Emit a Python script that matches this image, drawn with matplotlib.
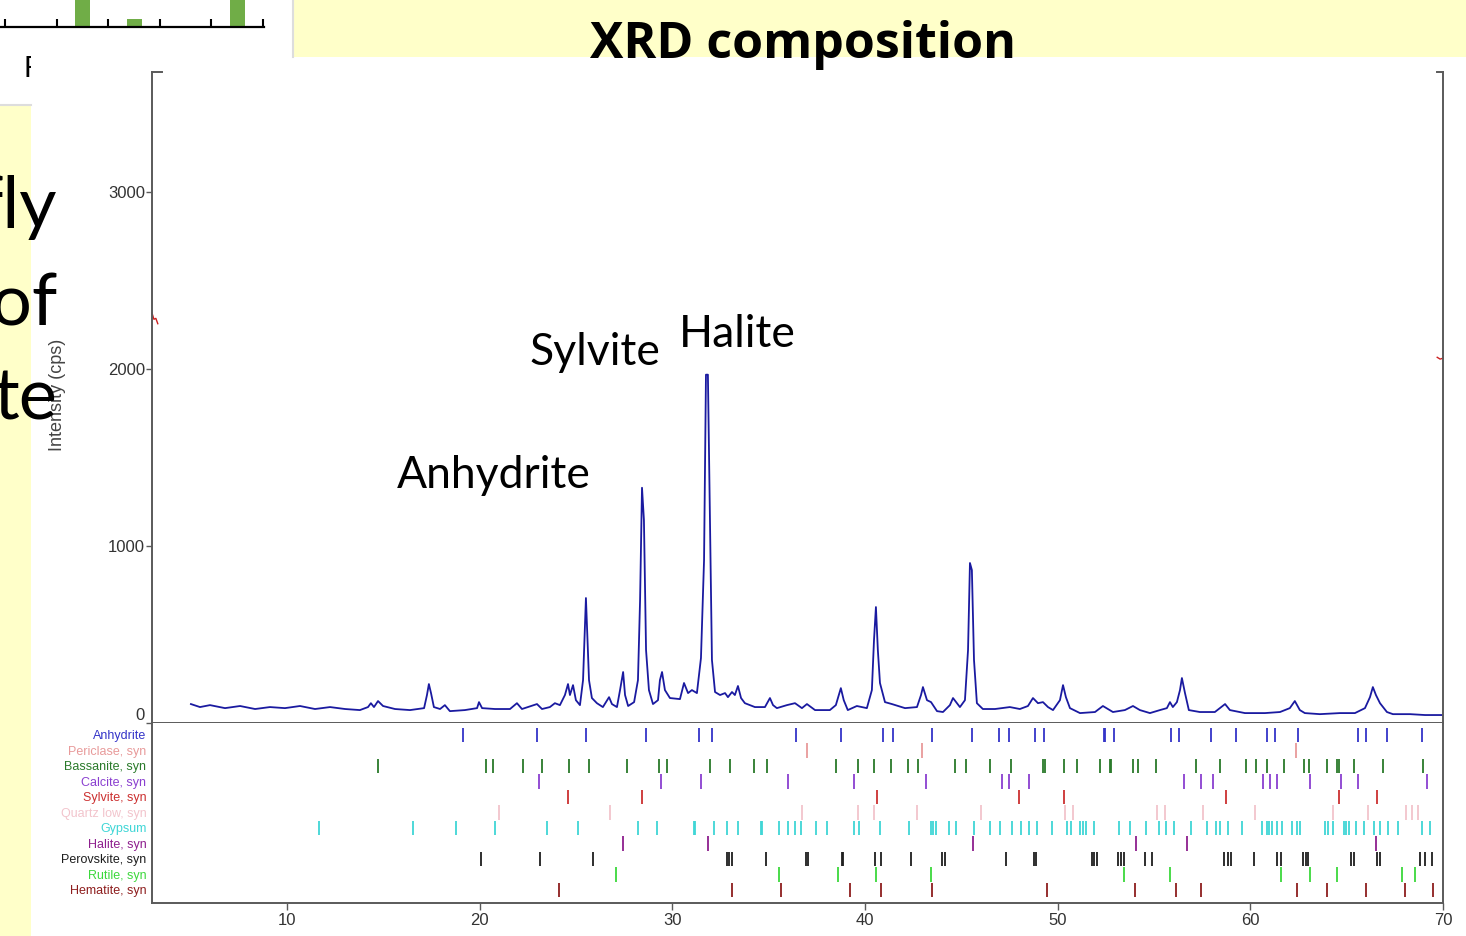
import matplotlib
matplotlib.use("Agg")
import matplotlib.pyplot as plt
from matplotlib.patches import Rectangle
from matplotlib.lines import Line2D
from matplotlib.transforms import Bbox

plt.rcParams["font.family"] = ["Liberation Sans", "DejaVu Sans"]

# ---------------- data ----------------
two_theta = [5.02, 5.49, 6.01, 6.79, 7.57, 8.35, 9.12, 9.90, 10.68, 11.46, 12.24, 13.02, 13.79,
             14.21, 14.36, 14.52, 14.73, 14.99, 15.61, 16.39, 17.12, 17.27, 17.37, 17.48, 17.63,
             17.95, 18.20, 18.46, 19.24, 19.87, 19.97, 20.13, 20.80, 21.58, 21.94, 22.20, 22.98,
             23.24, 23.65, 23.91, 24.17, 24.43, 24.59, 24.69, 24.85, 25.00, 25.21, 25.37, 25.52,
             25.68, 25.83, 26.09, 26.40, 26.72, 26.87, 27.13, 27.29, 27.45, 27.55, 27.71, 28.02,
             28.22, 28.33, 28.43, 28.53, 28.64, 28.79, 29.00, 29.26, 29.36, 29.47, 29.62, 29.88,
             30.40, 30.61, 30.82, 31.02, 31.28, 31.49, 31.65, 31.75, 31.85, 31.96, 32.06, 32.22,
             32.48, 32.74, 32.89, 33.10, 33.25, 33.41, 33.57, 33.77, 34.29, 34.81, 35.07, 35.23,
             35.43, 35.95, 36.37, 36.73, 36.99, 37.41, 38.18, 38.49, 38.75, 38.90, 39.11, 39.58,
             40.10, 40.36, 40.47, 40.57, 40.67, 40.78, 41.04, 41.40, 42.08, 42.70, 42.91, 43.01,
             43.22, 43.43, 43.74, 44.05, 44.41, 44.57, 44.93, 45.19, 45.35, 45.45, 45.55, 45.66,
             45.81, 46.12, 46.75, 47.52, 48.04, 48.46, 48.72, 48.98, 49.24, 49.50, 49.76, 50.12,
             50.28, 50.43, 50.64, 51.16, 51.94, 52.35, 52.87, 53.49, 53.91, 54.27, 54.79, 55.31,
             55.67, 55.83, 55.98, 56.19, 56.35, 56.45, 56.61, 56.81, 57.38, 58.16, 58.69, 58.94,
             59.72, 60.76, 61.54, 62.05, 62.31, 62.57, 62.83, 63.61, 64.65, 65.43, 65.95, 66.21,
             66.36, 66.52, 66.73, 67.09, 67.40, 68.29, 69.07, 70.00]
intensity = [107, 90, 101, 84, 96, 79, 90, 84, 96, 79, 90, 79, 73,
             90, 112, 90, 124, 96, 79, 73, 84, 158, 220, 169, 90,
             79, 101, 67, 73, 84, 118, 84, 79, 79, 112, 79, 107,
             79, 90, 112, 101, 158, 220, 158, 214, 129, 101, 242, 706,
             242, 141, 112, 90, 146, 107, 90, 186, 288, 158, 96, 118,
             242, 695, 1329, 1147, 412, 186, 107, 129, 242, 288, 186, 141,
             135, 226, 169, 186, 169, 367, 920, 1968, 1968, 1146, 356, 175,
             158, 169, 146, 175, 158, 209, 141, 112, 90, 90, 141, 101,
             84, 101, 112, 84, 107, 73, 73, 101, 197, 129, 73, 96,
             84, 186, 468, 655, 412, 226, 118, 107, 84, 90, 158, 203,
             129, 118, 67, 62, 101, 141, 90, 129, 412, 904, 864, 356,
             112, 79, 79, 90, 79, 96, 141, 112, 118, 90, 73, 129,
             214, 146, 84, 56, 62, 96, 62, 73, 96, 73, 56, 73,
             84, 118, 90, 118, 186, 254, 169, 73, 62, 62, 107, 73,
             56, 56, 62, 84, 124, 73, 56, 50, 56, 56, 84, 146,
             203, 158, 112, 62, 50, 50, 45, 45]

# fragments of a second (red) scan visible at the plot edges
red_left_x = [3.0, 3.1, 3.2, 3.3]
red_left_y = [2316, 2281, 2286, 2256]
red_right_x = [69.7, 69.85, 70.0]
red_right_y = [2066, 2056, 2061]

phase_names = ["Anhydrite", "Periclase, syn", "Bassanite, syn", "Calcite, syn", "Sylvite, syn",
               "Quartz low, syn", "Gypsum", "Halite, syn", "Perovskite, syn", "Rutile, syn",
               "Hematite, syn"]

anhydrite = [19.12, 22.96, 25.52, 28.62, 31.40, 32.05, 36.42, 38.74, 40.92, 41.44, 43.48, 45.57,
             46.95, 47.49, 48.82, 49.30, 52.40, 52.47, 52.94, 55.86, 56.29, 57.96, 59.25, 60.88,
             61.28, 62.45, 65.60, 65.98, 67.10, 68.91]
periclase = [36.97, 42.96, 62.35]
bassanite = [14.73, 20.32, 20.71, 22.27, 23.24, 24.64, 25.69, 27.67, 29.33, 29.71, 31.96, 33.01,
             34.24, 34.93, 38.48, 39.64, 40.48, 41.33, 42.25, 42.74, 44.67, 45.23, 46.49, 47.59,
             49.25, 49.34, 50.33, 51.00, 52.18, 52.73, 52.78, 53.89, 54.18, 55.12, 57.18, 58.42,
             59.77, 60.29, 60.88, 61.74, 62.80, 63.04, 63.96, 64.48, 64.61, 65.39, 66.88, 68.94]
calcite = [23.07, 29.43, 31.47, 35.99, 39.41, 43.15, 47.09, 47.49, 48.51, 56.57, 57.42, 58.06,
           60.67, 61.02, 61.36, 63.09, 64.69, 65.60, 69.18]
sylvite = [24.57, 28.41, 40.61, 48.01, 50.33, 58.75, 64.61, 66.55]
quartz = [20.99, 26.77, 36.75, 39.65, 40.48, 42.68, 46.00, 50.38, 50.81, 55.14, 55.57, 57.53,
          60.25, 64.30, 66.12, 68.07, 68.37, 68.68]
gypsum = [11.67, 16.54, 18.78, 20.80, 23.51, 25.09, 28.20, 29.22, 31.14, 31.19, 32.16, 32.85,
          33.43, 34.60, 34.65, 35.54, 35.99, 36.38, 36.68, 37.46, 38.01, 39.43, 39.70, 40.78,
          42.30, 43.43, 43.55, 43.68, 44.36, 44.72, 45.67, 46.49, 47.01, 47.64, 48.08, 48.51,
          48.91, 49.69, 50.50, 50.69, 51.16, 51.33, 51.47, 51.90, 53.20, 53.75, 54.57, 55.26,
          55.62, 56.03, 56.90, 57.76, 58.20, 58.42, 58.82, 59.58, 60.59, 60.85, 60.97, 61.11,
          61.40, 61.62, 62.17, 62.43, 62.57, 63.87, 64.04, 64.30, 64.87, 64.99, 65.12, 65.46,
          65.91, 66.41, 66.73, 67.16, 67.68, 68.92, 69.32]
halite = [27.46, 31.84, 45.62, 54.06, 56.69, 66.52]
perovskite = [20.07, 23.13, 25.90, 32.82, 32.96, 33.10, 34.86, 36.92, 37.06, 38.79, 38.87, 40.53,
              40.82, 42.39, 44.01, 44.15, 47.32, 48.77, 48.87, 51.76, 51.90, 52.04, 53.11, 53.29,
              53.44, 54.53, 54.91, 58.65, 58.82, 58.99, 60.19, 61.36, 61.57, 62.71, 62.87, 63.00,
              65.21, 65.39, 66.55, 66.73, 68.80, 69.06, 69.41]
rutile = [27.08, 35.54, 38.62, 40.57, 43.43, 53.44, 55.83, 61.59, 63.09, 64.48, 67.88, 68.54]
hematite = [24.14, 33.11, 35.62, 39.22, 40.82, 43.48, 49.43, 54.01, 56.14, 57.42, 62.40, 64.00,
            65.98, 68.02, 69.49]

phase_positions = [anhydrite, periclase, bassanite, calcite, sylvite, quartz, gypsum, halite,
                   perovskite, rutile, hematite]
phase_colors = ["#3434C8", "#E89A9A", "#2A7A2A", "#8A3FD0", "#CC3030", "#F2C4CC", "#3FD6D6",
                "#8E1F8E", "#1E1E1E", "#3CD83C", "#8E1E1E"]

x_ticks = [10, 20, 30, 40, 50, 60, 70]
y_ticks = [0, 1000, 2000, 3000]

# fragment of the bar chart at the top-left of the slide
bar_values = [0, 14, 3, 0, 12]

W, H = 1466, 936
YELLOW = "#FFFFC9"
SPINE = "#5a5a5a"


def fx(px):
    return px / W


def fy(py):
    return 1 - py / H


fig = plt.figure(figsize=(W / 100, H / 100), dpi=100)
fig.patch.set_facecolor("white")

###### slide background ######
fig.patches.append(Rectangle((fx(294), fy(57)), fx(W - 294), 57 / H, transform=fig.transFigure,
                             facecolor=YELLOW, edgecolor="none", zorder=0.1))
fig.patches.append(Rectangle((0, 0), fx(31), fy(105), transform=fig.transFigure,
                             facecolor=YELLOW, edgecolor="none", zorder=0.1))
fig.lines.append(Line2D([fx(293), fx(293)], [fy(0), fy(57)], transform=fig.transFigure,
                        color="#dddddd", lw=1.5, zorder=0.2))
fig.lines.append(Line2D([0, fx(31)], [fy(105), fy(105)], transform=fig.transFigure,
                        color="#dddddd", lw=1.5, zorder=0.2))
# letter of the hidden bar chart's axis label, cut by the chart picture
f_txt = fig.text(fx(24), fy(77), "F", fontsize=20, family="Lato", ha="left", va="baseline")
f_txt.set_clip_box(Bbox.from_extents(0, 0, 31, H))
f_txt.set_clip_on(True)

###### bar chart fragment ######
axb = fig.add_axes([0, fy(27), fx(264), 27 / H])
axb.patch.set_alpha(0)
axb.bar(range(len(bar_values)), bar_values, width=0.29, color="#70AD47")
axb.set_xlim(-0.6, 4.52)
axb.set_ylim(0, 10)
for s in ["top", "left", "right"]:
    axb.spines[s].set_visible(False)
axb.spines["bottom"].set_linewidth(1.6)
axb.set_xticks([-0.5, 0.5, 1.5, 2.5, 3.5, 4.5])
axb.set_xticklabels([])
axb.set_yticks([])
axb.tick_params(axis="x", direction="in", length=6, width=1.5, color="black")

###### XRD pattern ######
ax = fig.add_axes([fx(152), fy(723), fx(1443 - 152), (723 - 72) / H])
axs = fig.add_axes([fx(152), fy(903), fx(1443 - 152), (903 - 723) / H], sharex=ax)

ax.plot(two_theta, intensity, color="#1A1AA0", lw=1.3)
ax.plot(red_left_x, red_left_y, color="#CC2020", lw=1.0, clip_on=False)
ax.plot(red_right_x, red_right_y, color="#CC2020", lw=1.0, clip_on=False)
ax.set_xlim(3, 70)
ax.set_ylim(0, 3678)
ax.set_yticks(y_ticks)
ax.tick_params(axis="y", direction="out", length=4, width=1, color=SPINE, labelsize=12,
               labelcolor="#333333", pad=1)
ax.get_yticklabels()[0].set_va("bottom")
ax.tick_params(axis="x", bottom=False, labelbottom=False)
ax.spines["top"].set_visible(False)
for s in ["left", "right", "bottom"]:
    ax.spines[s].set_color(SPINE)
    ax.spines[s].set_linewidth(1.4)
# little corner marks of the frame
ax.plot([0, 0.008], [1, 1], transform=ax.transAxes, color=SPINE, lw=1.4, clip_on=False)
ax.plot([0.995, 1], [1, 1], transform=ax.transAxes, color=SPINE, lw=1.4, clip_on=False)
ax.set_ylabel("Intensity (cps)", fontsize=13, color="#444444")
ax.yaxis.set_label_coords(-0.0666, 0.504)

ax.text(33.36, 2124, "Halite", ha="center", va="baseline", fontsize=32, family="Lato")
ax.text(25.99, 2023, "Sylvite", ha="center", va="baseline", fontsize=32, family="Lato")
ax.text(20.75, 1328, "Anhydrite", ha="center", va="baseline", fontsize=32, family="Lato")

###### phase sticks ######
for i, (pos, col) in enumerate(zip(phase_positions, phase_colors)):
    axs.vlines(pos, i - 0.47, i + 0.47, color=col, lw=1.3)
axs.set_ylim(10.84, -0.77)
axs.set_yticks(range(len(phase_names)))
axs.set_yticklabels(phase_names, fontsize=9)
for lbl, col in zip(axs.get_yticklabels(), phase_colors):
    lbl.set_color(col)
axs.tick_params(axis="y", length=0, pad=4)
axs.set_xticks(x_ticks)
axs.tick_params(axis="x", direction="out", length=5, width=1, color=SPINE, labelsize=12,
                labelcolor="#333333", pad=2)
axs.spines["top"].set_visible(False)
for s in ["left", "right", "bottom"]:
    axs.spines[s].set_color(SPINE)
    axs.spines[s].set_linewidth(1.4)

###### slide texts ######
fig.text(fx(803), fy(58), "XRD composition", ha="center", va="baseline", fontsize=36,
         fontweight="bold", family="Open Sans", zorder=5)
for word, base in [("fly", 228), ("of", 326), ("te", 420)]:
    fig.text(fx(57), fy(base), word, ha="right", va="baseline", fontsize=52, family="Lato",
             zorder=5)

fig.savefig("out.png", dpi=100)
